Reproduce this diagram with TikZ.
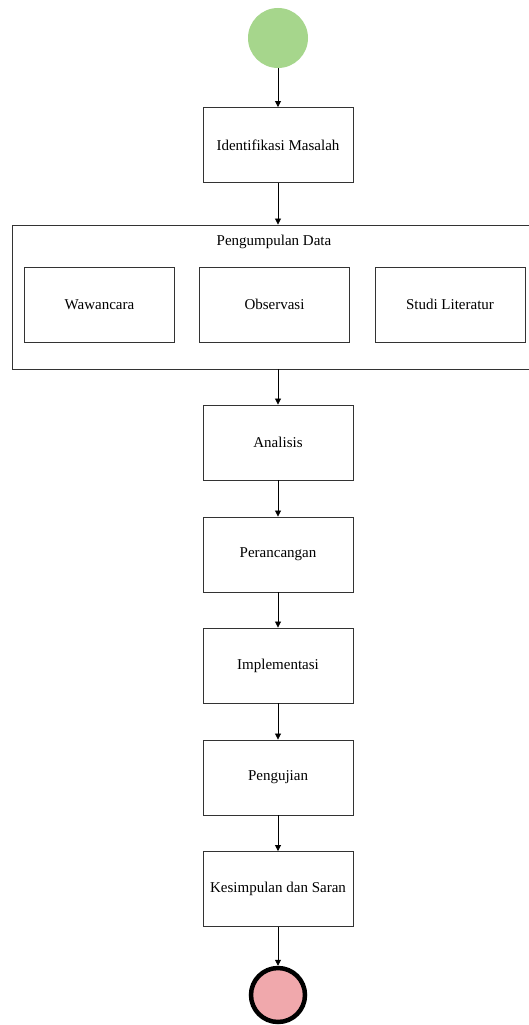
\documentclass[tikz,border=0pt]{standalone}
\usepackage{fontspec}
\setmainfont{Liberation Serif}
\usetikzlibrary{arrows.meta}
\definecolor{startgreen}{RGB}{166,214,140}
\definecolor{endpink}{RGB}{240,168,172}
\definecolor{boxline}{RGB}{51,51,51}
\begin{document}
\begin{tikzpicture}[x=1pt,y=-1pt,
  stepbox/.style={draw=boxline,line width=0.9pt,minimum width=150pt,minimum height=75pt,inner sep=0pt,font=\fontsize{15}{18}\selectfont},
  flow/.style={draw=black,line width=0.8pt,-{Triangle[length=6pt,width=6pt]}}]
\useasboundingbox (0,0) rectangle (529,1025);
\fill[white] (0,0) rectangle (529,1025);
\node[circle,fill=startgreen,minimum size=60pt,inner sep=0pt] (start) at (278,38) {};
\node[stepbox] (ident) at (278,145) {Identifikasi Masalah};
\node[draw=boxline,line width=0.9pt,minimum width=517pt,minimum height=144pt,inner sep=0pt] (pd) at (270.5,297) {};
\node[font=\fontsize{15}{18}\selectfont] (pdt) at (274,242) {Pengumpulan Data};
\node[stepbox] (waw) at (99.5,304.5) {Wawancara};
\node[stepbox] (obs) at (274.5,304.5) {Observasi};
\node[stepbox] (stu) at (450,304.5) {Studi Literatur};
\node[stepbox] (ana) at (278,442.5) {Analisis};
\node[stepbox] (per) at (278,554.5) {Perancangan};
\node[stepbox] (imp) at (278,665.5) {Implementasi};
\node[stepbox] (pgj) at (278,777.5) {Pengujian};
\node[stepbox] (kes) at (278,889) {Kesimpulan dan Saran};
\node[circle,draw=black,line width=4.5pt,fill=endpink,minimum size=54pt,inner sep=0pt] (end) at (278,995) {};
\draw[flow] (start) -- (ident);
\draw[flow] (ident.south) -- (ident.south |- pd.north);
\draw[flow] (ident.south |- pd.south) -- (ana.north);
\draw[flow] (ana) -- (per);
\draw[flow] (per) -- (imp);
\draw[flow] (imp) -- (pgj);
\draw[flow] (pgj) -- (kes);
\draw[flow] (kes) -- (end);
\end{tikzpicture}
\end{document}
